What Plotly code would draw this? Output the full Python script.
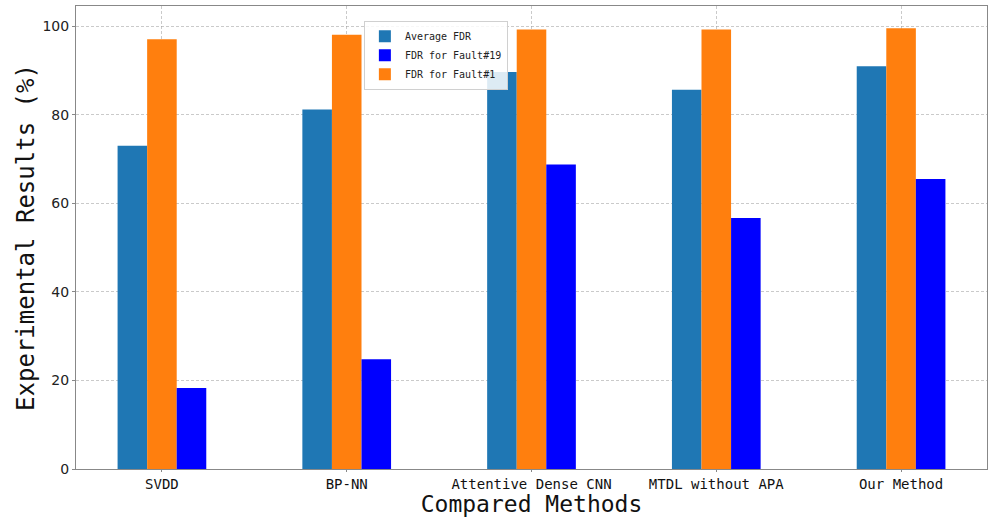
import plotly.graph_objects as go

methods = ["SVDD", "BP-NN", "Attentive Dense CNN", "MTDL without APA", "Our Method"]
avg_fdr = [73.0, 81.2, 89.7, 85.7, 91.0]
fault1_fdr = [97.1, 98.1, 99.3, 99.3, 99.6]
fault19_fdr = [18.3, 24.8, 68.8, 56.7, 65.5]

mono = "DejaVu Sans Mono"

fig = go.Figure()
fig.add_bar(x=methods, y=avg_fdr, name="Average FDR", marker_color="#1f77b4",
            marker_line_width=0, legendrank=1)
fig.add_bar(x=methods, y=fault1_fdr, name="FDR for Fault#1", marker_color="#ff7f0e",
            marker_line_width=0, legendrank=3)
fig.add_bar(x=methods, y=fault19_fdr, name="FDR for Fault#19", marker_color="#0000ff",
            marker_line_width=0, legendrank=2)

grid = "rgba(150,150,150,0.5)"
fig.update_layout(
    width=988, height=517,
    margin=dict(l=76, r=1, t=6, b=48),
    paper_bgcolor="white", plot_bgcolor="white",
    barmode="group", bargap=0.52, bargroupgap=0,
    showlegend=True,
    legend=dict(x=0.316, y=0.968, xanchor="left", yanchor="top",
                font=dict(family=mono, size=10, color="#222"),
                bgcolor="rgba(255,255,255,0.85)", bordercolor="#d0d0d0", borderwidth=1,
                tracegroupgap=0, itemwidth=30),
    xaxis=dict(range=[-0.465, 4.465], showgrid=True, gridcolor=grid, griddash="3px,2px",
               gridwidth=1, showline=True, linecolor="#888", linewidth=1, mirror=True,
               layer="above traces",
               ticks="outside", ticklen=2, tickcolor="#888",
               tickfont=dict(family=mono, size=14, color="#111"),
               title=dict(text="Compared Methods", font=dict(family=mono, size=23, color="#111"),
                          standoff=0)),
    yaxis=dict(range=[0, 104.6], tickvals=[0, 20, 40, 60, 80, 100], showgrid=True,
               gridcolor=grid, griddash="3px,2px", gridwidth=1, zeroline=False,
               showline=True, linecolor="#888", linewidth=1, mirror=True,
               layer="above traces",
               ticks="outside", ticklen=3, tickcolor="#888",
               tickfont=dict(family="DejaVu Sans", size=14, color="#222"),
               title=dict(text="Experimental Results (%)",
                          font=dict(family=mono, size=24, color="#111"), standoff=1)),
)

fig.write_html("out.html", config={"displayModeBar": False},
               post_script="document.body.style.margin='0';")
